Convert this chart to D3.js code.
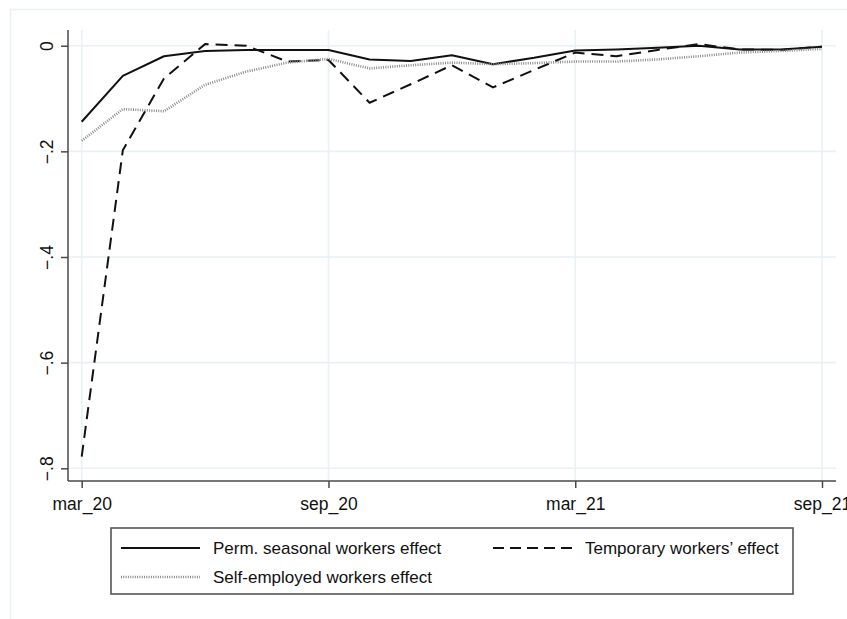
<!DOCTYPE html>
<html>
<head>
<meta charset="utf-8">
<script src="https://cdn.jsdelivr.net/npm/d3@7"></script>
<style>
  html, body { margin: 0; padding: 0; background: #fff; }
  svg { display: block; font-family: "Liberation Sans", Arial, sans-serif; }
</style>
</head>
<body>
<svg id="chart" width="847" height="619"></svg>
<script>
// Monthly periods, March 2020 to September 2021
const months = ["mar_20","apr_20","may_20","jun_20","jul_20","aug_20","sep_20","oct_20","nov_20","dec_20",
                "jan_21","feb_21","mar_21","apr_21","may_21","jun_21","jul_21","aug_21","sep_21"];
const xTickLabels = ["mar_20","sep_20","mar_21","sep_21"];
const yTickValues = [0, -0.2, -0.4, -0.6, -0.8];

// Estimated effects per month
const permSeasonal = [-0.144,-0.057,-0.020,-0.010,-0.008,-0.008,-0.008,-0.026,-0.029,-0.018,
                      -0.035,-0.023,-0.009,-0.007,-0.004, 0.000,-0.007,-0.007,-0.002];
const temporary    = [-0.778,-0.198,-0.062, 0.003, 0.000,-0.030,-0.027,-0.108,-0.073,-0.037,
                      -0.079,-0.046,-0.013,-0.020,-0.008, 0.003,-0.007,-0.008,-0.002];
const selfEmployed = [-0.180,-0.120,-0.124,-0.074,-0.049,-0.032,-0.025,-0.043,-0.037,-0.032,
                      -0.035,-0.033,-0.030,-0.030,-0.026,-0.020,-0.013,-0.010,-0.006];

const seriesNames = ["Perm. seasonal workers effect", "Temporary workers\u2019 effect", "Self-employed workers effect"];

const svg = d3.select("#chart");

// outer graph region border
svg.append("path")
  .attr("d", "M10.5,619 L10.5,9.5 L847,9.5")
  .attr("fill", "none").attr("stroke", "#eaf1f1").attr("stroke-width", 1.5);

const plot = { left: 68, right: 836, top: 30, bottom: 481 };

const x = d3.scalePoint().domain(months).range([81.7, 822]);
const y = d3.scaleLinear().domain([-0.8, 0]).range([468.3, 45.7]);

const gridColor = "#e9f1f2";
// horizontal grid
svg.append("g").selectAll("line").data(yTickValues).join("line")
  .attr("x1", plot.left).attr("x2", plot.right)
  .attr("y1", d => y(d)).attr("y2", d => y(d))
  .attr("stroke", gridColor).attr("stroke-width", 1.6);
// vertical grid
svg.append("g").selectAll("line").data(xTickLabels).join("line")
  .attr("x1", d => x(d)).attr("x2", d => x(d))
  .attr("y1", plot.top).attr("y2", plot.bottom)
  .attr("stroke", gridColor).attr("stroke-width", 1.6);

// y axis with rotated labels
const yAxis = d3.axisLeft(y).tickValues(yTickValues).tickSize(7).tickPadding(6)
  .tickFormat(d => d === 0 ? "0" : d3.format(".1f")(d).replace("0.", "."));
const gy = svg.append("g").attr("transform", `translate(${plot.left},0)`).call(yAxis);
gy.select(".domain").attr("d", `M0,${plot.top}V${plot.bottom}`);
gy.selectAll(".domain, .tick line").attr("stroke", "#4a4a4a").attr("stroke-width", 1.5);
gy.selectAll(".tick text")
  .attr("font-size", 17.5).attr("fill", "#111")
  .attr("transform", "rotate(-90)")
  .attr("x", 0).attr("y", -15).attr("dy", "0")
  .attr("text-anchor", "middle");

// x axis
const xAxis = d3.axisBottom(x).tickValues(xTickLabels).tickSize(7).tickPadding(10);
const gx = svg.append("g").attr("transform", `translate(0,${plot.bottom})`).call(xAxis);
gx.select(".domain").attr("d", `M${plot.left},0H${plot.right}`);
gx.selectAll(".domain, .tick line").attr("stroke", "#4a4a4a").attr("stroke-width", 1.5);
gx.selectAll(".tick text").attr("font-size", 17.5).attr("fill", "#111");

// series lines
const line = d3.line().x((d, i) => x(months[i])).y(d => y(d));
const styles = [
  { data: permSeasonal, stroke: "#111", width: 2, dash: null, legendDash: null },
  { data: temporary,    stroke: "#111", width: 2, dash: "12,7", legendDash: "11,6" },
  { data: selfEmployed, stroke: "#8a8a8a", width: 2.6, dash: "1,1.3", legendDash: "1,1.3" }
];
styles.forEach(s => {
  svg.append("path").datum(s.data)
    .attr("d", line)
    .attr("fill", "none")
    .attr("stroke", s.stroke)
    .attr("stroke-width", s.width)
    .attr("stroke-linejoin", "round")
    .attr("stroke-dasharray", s.dash);
});

// legend
const legend = svg.append("g");
legend.append("rect")
  .attr("x", 111).attr("y", 528).attr("width", 682).attr("height", 66)
  .attr("fill", "#fff").attr("stroke", "#555").attr("stroke-width", 1.6);

const legendItems = [
  { name: seriesNames[0], style: styles[0], lx: 121, ly: 548 },
  { name: seriesNames[1], style: styles[1], lx: 493, ly: 548 },
  { name: seriesNames[2], style: styles[2], lx: 121, ly: 577 }
];
legendItems.forEach(it => {
  legend.append("line")
    .attr("x1", it.lx).attr("x2", it.lx + 79)
    .attr("y1", it.ly).attr("y2", it.ly)
    .attr("stroke", it.style.stroke)
    .attr("stroke-width", it.style.width)
    .attr("stroke-dasharray", it.style.legendDash);
  legend.append("text")
    .attr("x", it.lx + 92).attr("y", it.ly)
    .attr("dy", "0.35em")
    .attr("font-size", 17).attr("fill", "#111")
    .text(it.name);
});
</script>
</body>
</html>
